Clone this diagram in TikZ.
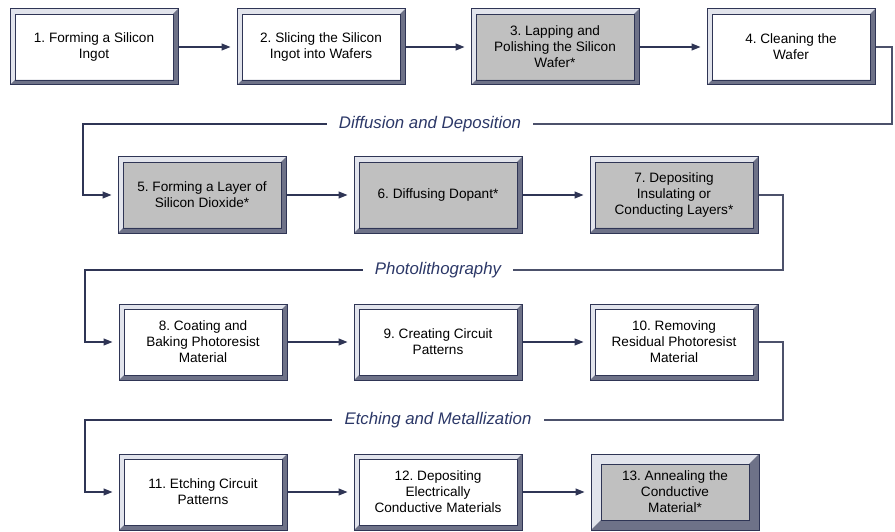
\documentclass[tikz,border=0pt]{standalone}
\usepackage{fontspec}
\setmainfont{Liberation Sans}
\frenchspacing
\usetikzlibrary{arrows.meta,calc}
\definecolor{navy}{HTML}{2F3555}
\definecolor{rulecol}{HTML}{4C516B}
\definecolor{bevlight}{HTML}{E2E4EC}
\definecolor{bevdark}{HTML}{6E7288}
\definecolor{stagegray}{HTML}{C0C0C0}
\definecolor{sectblue}{HTML}{2B3767}
\tikzset{
    bevel/.style={path picture={
        \coordinate (nw) at (path picture bounding box.north west);
        \coordinate (se) at (path picture bounding box.south east);
        \fill[bevlight] (nw) -- (nw -| se) -- ($(nw -| se)+(-#1,-#1)$) -- ($(nw)+(#1,-#1)$)
            -- ($(nw |- se)+(#1,#1)$) -- (nw |- se) -- cycle;
        \fill[bevdark] (se) -- (nw -| se) -- ($(nw -| se)+(-#1,-#1)$) -- ($(se)+(-#1,#1)$)
            -- ($(nw |- se)+(#1,#1)$) -- (nw |- se) -- cycle;
        \draw[navy,line width=0.8pt] ($(nw)+(#1,-#1)$) rectangle ($(se)+(-#1,#1)$);}},
    ST1/.style ={rectangle, draw=navy, line width=1pt, fill=white, minimum width=168pt, minimum height=76pt,
        inner sep=0pt, align=center, font=\fontsize{13.6}{16}\selectfont, bevel=5pt},
    ST2/.style ={ST1, fill=stagegray},
    SE/.style ={font=\fontsize{16.8}{19}\selectfont\itshape, text=sectblue, inner xsep=12pt},
    FL/.style ={navy, line width=1.2pt, -{Triangle[length=9pt,width=7pt]}, shorten >=6pt},
    LK/.style ={rulecol, line width=1.2pt}}
\begin{document}
\begin{tikzpicture}[x=1pt,y=-1pt]
        \useasboundingbox (0,0) rectangle (895,532);
        \node[ST1] (1) at(94,47){1. Forming a Silicon\\Ingot};
        \node[ST1] (2) at(321,47){2. Slicing the Silicon\\Ingot into Wafers};
        \node[ST2] (3) at(555,47){3. Lapping and\\Polishing the Silicon\\Wafer*};
        \node[ST1] (4) at(791,47){4. Cleaning the\\Wafer};
        \node[SE] (D) at(430,124){Diffusion and Deposition};
        \node[ST2] (5) at(202,195){5. Forming a Layer of\\Silicon Dioxide*};
        \node[ST2] (6) at(438,195){6. Diffusing Dopant*};
        \node[ST2] (7) at(674,195){7. Depositing\\Insulating or\\Conducting Layers*};
        \node[SE] (P) at(438,270){Photolithography};
        \node[ST1] (8) at(203,342){8. Coating and\\Baking Photoresist\\Material};
        \node[ST1] (9) at(438,342){9. Creating Circuit\\Patterns};
        \node[ST1] (10) at(674,342){10. Removing\\Residual Photoresist\\Material};
        \node[SE] (E) at(438,420){Etching and Metallization};
        \node[ST1] (11) at(203,492){11. Etching Circuit\\Patterns};
        \node[ST1] (12) at(438,492){12. Depositing\\Electrically\\Conductive Materials};
        \node[ST2,bevel=10pt] (13) at(675,492){13. Annealing the\\Conductive\\Material*};
        \coordinate (c1) at(892,124);
        \coordinate (c2) at(83,124);
        \coordinate (c3) at(783,270);
        \coordinate (c4) at(85,270);
        \coordinate (c5) at(783,420);
        \coordinate (c6) at(85,420);
        \draw[FL] (1) --(2);
        \draw[FL] (2) --(3);
        \draw[FL] (3) --(4);
        \draw[LK] (4.east) -|(c1) --(D.east);
        \draw[FL] (D.west) --(c2) |-(5.west);
        \draw[FL] (5) --(6);
        \draw[FL] (6) --(7);
        \draw[LK] (7.east) -|(c3) --(P.east);
        \draw[FL] (P.west) --(c4) |-(8.west);
        \draw[FL] (8) --(9);
        \draw[FL] (9) --(10);
        \draw[LK] (10.east) -|(c5) --(E.east);
        \draw[FL] (E.west) --(c6) |-(11.west);
        \draw[FL] (11) --(12);
        \draw[FL] (12) --(13);
    \end{tikzpicture}
\end{document}
